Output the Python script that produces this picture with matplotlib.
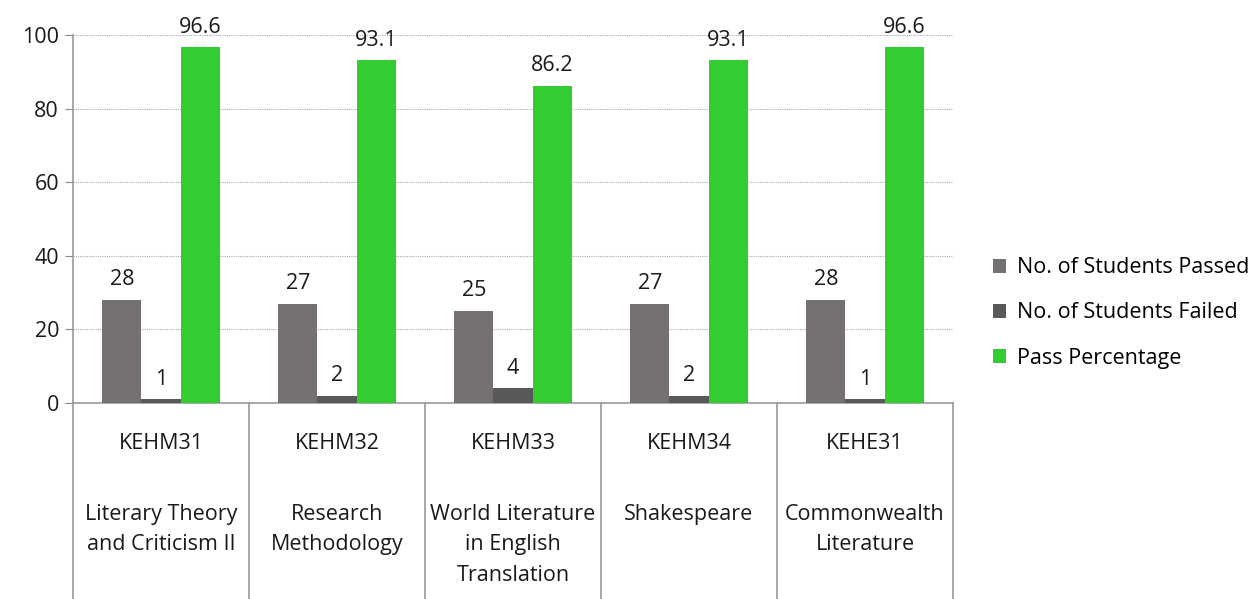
import numpy as np
from matplotlib import pyplot as plt
from matplotlib.lines import Line2D

plt.rcParams['font.family'] = ['Open Sans', 'DejaVu Sans']

codes = ['KEHM31', 'KEHM32', 'KEHM33', 'KEHM34', 'KEHE31']
titles = ['Literary Theory\nand Criticism II', 'Research\nMethodology',
          'World Literature\nin English\nTranslation', 'Shakespeare',
          'Commonwealth\nLiterature']
passed = [28, 27, 25, 27, 28]
failed = [1, 2, 4, 2, 1]
pass_pct = [96.6, 93.1, 86.2, 93.1, 96.6]

series = [('No. of Students Passed', passed, '#767171'),
          ('No. of Students Failed', failed, '#595959'),
          ('Pass Percentage', pass_pct, '#33CC33')]

fs = 15.5
fig = plt.figure(figsize=(12.5, 5.99), dpi=100)
ax = fig.add_axes([0.0584, 0.3272, 0.7040, 0.6144])

x = np.arange(len(codes))
w = 0.222
for i, (name, vals, col) in enumerate(series):
    pos = x + (i - 1) * w
    ax.bar(pos, vals, width=w, color=col, label=name, zorder=3)
    for p, v in zip(pos, vals):
        lab = ('%g' % v)
        ax.annotate(lab, (p, v), xytext=(0, 7), textcoords='offset points',
                    ha='center', va='bottom', fontsize=fs, color='#1a1a1a')

ax.set_xlim(-0.5, len(codes) - 0.5)
ax.set_ylim(0, 100)
ax.set_yticks(range(0, 101, 20))
ax.tick_params(axis='y', labelsize=fs, length=6, color='#888888', pad=4,
               labelcolor='#1a1a1a')
ax.set_xticks([])
ax.yaxis.grid(True, linestyle=(0, (1, 1)), color='#aaaaaa', linewidth=0.8, zorder=0)
for s in ['top', 'right']:
    ax.spines[s].set_visible(False)
for s in ['left', 'bottom']:
    ax.spines[s].set_color('#999999')
    ax.spines[s].set_linewidth(1.2)

# category separators and labels below the axis
for b in np.arange(len(codes) + 1) - 0.5:
    ax.add_line(Line2D([b, b], [0, -53.5], color='#999999', linewidth=1.2,
                       clip_on=False))
for xi, c, t in zip(x, codes, titles):
    ax.text(xi, -10.9, c, ha='center', va='center', fontsize=fs, color='#1a1a1a')
    ax.text(xi, -27.4, t, ha='center', va='top', fontsize=fs, color='#1a1a1a',
            linespacing=1.6)

fig.legend(loc='center left', bbox_to_anchor=(0.779, 0.4775), frameon=False,
           fontsize=fs, handlelength=0.6, handleheight=0.6, handletextpad=0.5,
           labelspacing=1.12)

fig.savefig('out.png', dpi=100)
